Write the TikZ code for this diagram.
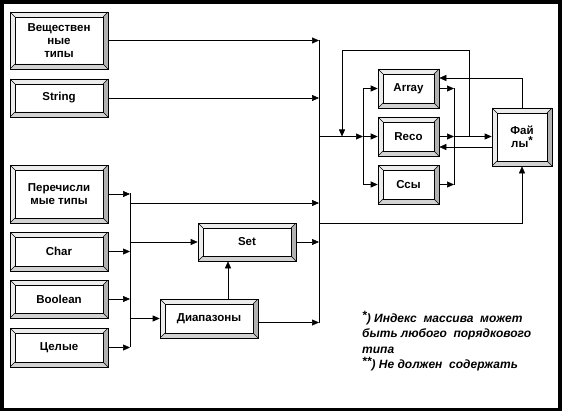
\documentclass[tikz,border=0pt]{standalone}
\usepackage{fontspec}
\setmainfont{Liberation Sans}
\usetikzlibrary{arrows.meta,calc}

\tikzset{
  knopka/.style={draw, line width=0.6pt, fill=white, align=center, inner sep=0pt,
    font=\fontsize{11.5}{13}\selectfont\bfseries,
    path picture={
      \coordinate (sw) at (path picture bounding box.south west);
      \coordinate (se) at (path picture bounding box.south east);
      \coordinate (nw) at (path picture bounding box.north west);
      \coordinate (ne) at (path picture bounding box.north east);
      \fill[gray!15] (sw) -- (nw) -- (ne) -- ([shift={(-5pt,-5pt)}]ne) -- ([shift={(5pt,-5pt)}]nw) -- ([shift={(5pt,5pt)}]sw) -- cycle;
      \fill[gray!60] (ne) -- (se) -- ([shift={(-5pt,5pt)}]se) -- ([shift={(-5pt,-5pt)}]ne) -- cycle;
      \fill[gray!35] (sw) -- (se) -- ([shift={(-5pt,5pt)}]se) -- ([shift={(5pt,5pt)}]sw) -- cycle;
      \draw[line width=0.4pt] (sw) -- ++(5pt,5pt) (nw) -- ++(5pt,-5pt) (ne) -- ++(-5pt,-5pt) (se) -- ++(-5pt,5pt);
      \draw[line width=0.8pt] ([shift={(5pt,5pt)}]sw) rectangle ([shift={(-5pt,-5pt)}]ne);
    }},
  shirokaya/.style={knopka, minimum width=98pt, minimum height=39pt},
  uzkaya/.style={knopka, minimum width=61pt, minimum height=39pt},
  strelka/.style={-{Triangle[length=7pt,width=6pt]}, line width=0.6pt},
  liniya/.style={line width=0.6pt},
  primech/.style={align=left, inner sep=0pt, font=\fontsize{12}{15.3}\selectfont\bfseries\itshape}
}
\newcommand{\zvezda}[1]{\raisebox{3pt}{#1}}

\begin{document}
\begin{tikzpicture}[x=1pt,y=-1pt]
\useasboundingbox (0,0) rectangle (563,412);
\draw[line width=3.5pt] (2,2) rectangle (560,409.5);

% levye bloki
\node[shirokaya, minimum height=57pt] (veshch) at (59,40.5) {Веществен\\ные\\типы};
\node[shirokaya, minimum height=38pt] (string) at (59,98) {String};
\node[shirokaya, minimum height=58pt] (perech) at (59,194) {Перечисли\\мые типы};
\node[shirokaya] (char) at (59,251.5) {Char};
\node[shirokaya, minimum height=38pt] (bool) at (59,299) {Boolean};
\node[shirokaya] (celye) at (59,347.5) {Целые};

% srednie bloki
\node[shirokaya, minimum height=38pt] (set) at (247,242) {Set};
\node[shirokaya] (diap) at (209,318.5) {Диапазоны};

% pravye bloki
\node[uzkaya] (array) at (408.5,88.5) {Array};
\node[uzkaya] (record) at (408.5,136.5) {Reco};
\node[uzkaya] (ssyl) at (408.5,184.5) {Ссы};
\node[knopka, minimum width=60pt, minimum height=58pt] (fayly) at (522,137) {Фай\\лы\zvezda{*}};

% glavnaya shina
\coordinate (shinaV) at (319,40);
\coordinate (shinaN) at (319,323);
\draw[liniya] (shinaV) -- (shinaN);
\draw[strelka] (veshch.east) -- (veshch.east -| shinaV);
\draw[strelka] (string.east) -- (string.east -| shinaV);

% levaya shina
\coordinate (lshV) at (130,193);
\coordinate (lshN) at (130,347);
\draw[liniya] (lshV) -- (lshN);
\draw[strelka] (perech.east) -- (perech.east -| lshV);
\draw[strelka] (char.east) -- (char.east -| lshV);
\draw[strelka] (bool.east) -- (bool.east -| lshV);
\draw[strelka] (celye.east) -- (celye.east -| lshV);
\coordinate (otv1) at (130,203);
\draw[strelka] (otv1) -- (otv1 -| shinaV);
\draw[strelka] (set.west -| lshV) -- (set.west);
\draw[strelka] (diap.west -| lshV) -- (diap.west);
\draw[strelka] (set.east) -- (set.east -| shinaV);
\draw[strelka] ([xshift=19pt]diap.north) -- ([xshift=19pt]diap.north |- set.south);
\draw[strelka] ([yshift=-4pt]diap.east) -- ([yshift=-4pt]diap.east -| shinaV);

% k faylam snizu
\coordinate (otv2) at (319,223);
\draw[strelka] (otv2) -- (otv2 -| fayly.south) -- (fayly.south);

% razvetvitel
\coordinate (rx) at (363,0);
\draw[liniya] (array.west -| rx) -- (ssyl.west -| rx);
\draw[strelka] (record.west -| shinaV) -- (record.west -| rx);
\draw[strelka] (record.west -| rx) -- (record.west);
\draw[strelka] (array.west -| rx) -- (array.west);
\draw[strelka] (ssyl.west -| rx) -- (ssyl.west);

% vyhody
\coordinate (vx) at (454,0);
\draw[liniya] (array.east -| vx) -- (ssyl.east -| vx);
\draw[strelka] (array.east) -- (array.east -| vx);
\draw[strelka] (record.east) -- (record.east -| vx);
\draw[strelka] (ssyl.east) -- (ssyl.east -| vx);
\draw[strelka] (record.east -| vx) -- (fayly.west |- record.east);

% obratnaya svyaz
\coordinate (os1) at (469,50);
\coordinate (os2) at (342,50);
\draw[strelka] (record.east -| os1) -- (os1) -- (os2) -- (record.west -| os2);
\coordinate (fv) at (522,78);
\draw[strelka] (fayly.north) -- (fayly.north |- fv) -- (array.east |- fv);
\draw[strelka] ([yshift=-10pt]fayly.west) -- ([yshift=-10pt]fayly.west -| record.east);

% primechanie
\node[primech, anchor=north west] (prim) at (362,311)
  {\zvezda{*}) Индекс\ \ массива\ \ может\\быть\ любого\ \ порядкового\\типа\\\zvezda{**}) Не\ должен\ \ содержать};
\end{tikzpicture}
\end{document}
